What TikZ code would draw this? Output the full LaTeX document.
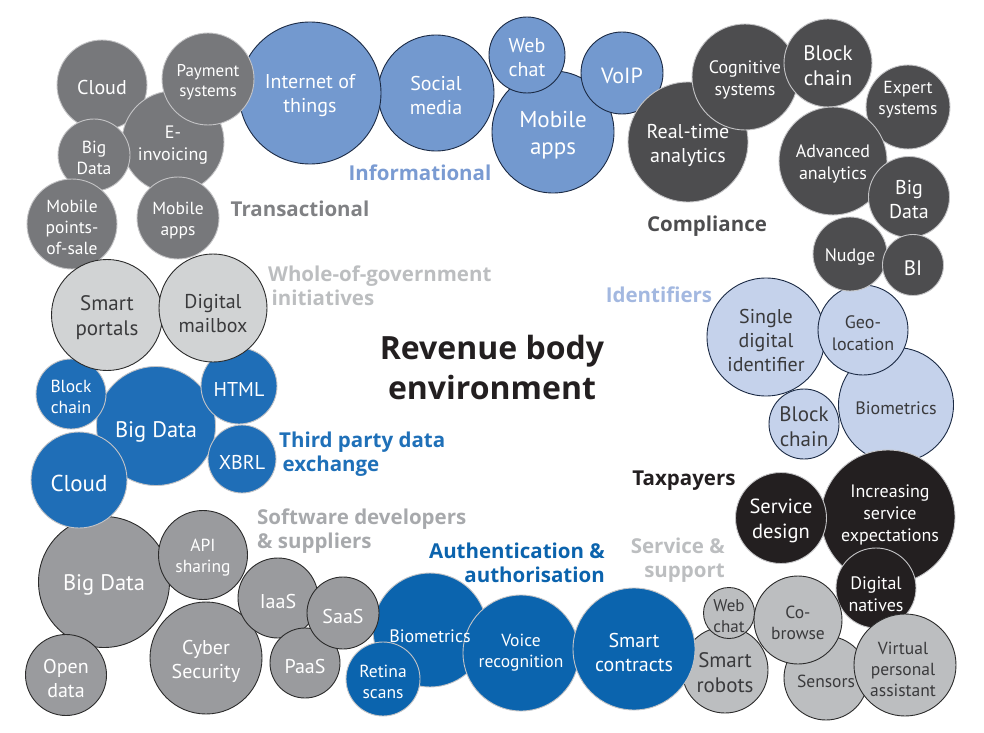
\documentclass[tikz,border=0pt]{standalone}
\usepackage{fontspec}
\setmainfont{PT Sans}
\newfontfamily\lblfont{Open Sans}
\definecolor{cTrans}{HTML}{77787B}
\definecolor{cInfo}{HTML}{7399CF}
\definecolor{cComp}{HTML}{4D4D4F}
\definecolor{cGov}{HTML}{D1D3D4}
\definecolor{cThird}{HTML}{1F6EB7}
\definecolor{cIdent}{HTML}{C5D2EB}
\definecolor{cTax}{HTML}{231F20}
\definecolor{cSoft}{HTML}{9A9B9E}
\definecolor{cAuth}{HTML}{0B64AE}
\definecolor{cServ}{HTML}{BCBEC0}
\definecolor{cNavy}{HTML}{1B2A44}
\definecolor{cDarkEdge}{HTML}{2B2B2B}
\definecolor{cLightEdge}{HTML}{C4C4C6}
\definecolor{cDarkText}{HTML}{3A3A3C}
\definecolor{lInfo}{HTML}{7A9BD2}
\definecolor{lTrans}{HTML}{808184}
\definecolor{lGov}{HTML}{BCBEC0}
\definecolor{lIdent}{HTML}{A3B8E0}
\definecolor{lThird}{HTML}{1F70B8}
\definecolor{lSoft}{HTML}{A7A9AC}
\definecolor{lAuth}{HTML}{0B63AD}
\newcommand\fz[1]{\fontsize{#1bp}{\dimexpr #1bp*6/5\relax}\selectfont}
\newcommand\bubble[4]{\node[#1,minimum size=#4bp] (#2) at (#3) {};}
\newcommand\btxt[5][0,0]{\node[#2,shift={(#1)},font=\fz{#4}] (#3-t) at (#3) {#5};}
\begin{document}
\begin{tikzpicture}[x=1bp,y=-1bp,
  bub/.style={circle,inner sep=0pt,line width=0.9bp},
  trans/.style={bub,fill=cTrans,draw=cLightEdge},
  info/.style={bub,fill=cInfo,draw=cNavy},
  comp/.style={bub,fill=cComp,draw=cLightEdge},
  gov/.style={bub,fill=cGov,draw=cDarkEdge},
  third/.style={bub,fill=cThird,draw=cLightEdge},
  ident/.style={bub,fill=cIdent,draw=cNavy},
  tax/.style={bub,fill=cTax,draw=cLightEdge},
  soft/.style={bub,fill=cSoft,draw=cDarkEdge},
  auth/.style={bub,fill=cAuth,draw=cLightEdge},
  serv/.style={bub,fill=cServ,draw=cDarkEdge},
  wt/.style={text=white,align=center,inner sep=0pt,yshift=-3bp},
  dt/.style={text=cDarkText,align=center,inner sep=0pt,yshift=-3bp},
  lbl/.style={font=\lblfont\bfseries\fontsize{20.5bp}{24.5bp}\selectfont,inner sep=0pt},
]
\useasboundingbox (0,0) rectangle (984,733);
% ---------- Informational
\bubble{info}{isoc}{436,93}{116}
\bubble{info}{iiot}{310,93}{142}
\bubble{info}{imob}{553,132}{122}
\bubble{info}{iweb}{527,55}{76}
\bubble{info}{ivoip}{622,73}{82}
% ---------- Transactional
\bubble{trans}{tcloud}{102,85}{90}
\bubble{trans}{teinv}{173,142}{102}
\bubble{trans}{tpay}{208,79}{92}
\bubble{trans}{tbig}{94,155}{72}
\bubble{trans}{tmob}{178,218}{82}
\bubble{trans}{tpos}{72,224}{90}
% ---------- Identifiers
\bubble{ident}{dsingle}{766,337}{118}
\bubble{ident}{dbio}{896,405}{115}
\bubble{ident}{dgeo}{863,330}{90}
\bubble{ident}{dblock}{804,424}{70}
% ---------- Compliance
\bubble{comp}{creal}{688,142}{120}
\bubble{comp}{ccog}{745,77}{106}
\bubble{comp}{cblock}{828,63}{88}
\bubble{comp}{cexp}{908,107}{84}
\bubble{comp}{cadv}{833,161}{108}
\bubble{comp}{cbig}{909,197}{81}
\bubble{comp}{cnudge}{850,254}{74}
\bubble{comp}{cbi}{913,265}{61}
% ---------- Taxpayers
\bubble{tax}{xinc}{888,517}{134}
\bubble{tax}{xserv}{781,518}{91}
\bubble{tax}{xnat}{876,588}{80}
% ---------- Service & support
\bubble{serv}{srob}{725,670}{86}
\bubble{serv}{sweb}{729,613}{51}
\bubble{serv}{ssens}{826,678}{84}
\bubble{serv}{sco}{798,620}{88}
\bubble{serv}{svirt}{905,665}{102}
% ---------- Authentication
\bubble{auth}{abio}{430,630}{114}
\bubble{auth}{aret}{383,679}{74}
\bubble{auth}{avoice}{521,653}{116}
\bubble{auth}{asmart}{634,649}{122}
% ---------- Software developers
\bubble{soft}{fbig}{104,582}{131}
\bubble{soft}{fapi}{203,555}{89}
\bubble{soft}{fopen}{66,675}{81}
\bubble{soft}{fcyber}{206,658}{112}
\bubble{soft}{fiaas}{278,598}{80}
\bubble{soft}{fpaas}{305,663}{70}
\bubble{soft}{fsaas}{343,613}{72}
% ---------- Third party data exchange
\bubble{third}{hbig}{156,426}{119}
\bubble{third}{hblock}{71,394}{70}
\bubble{third}{hhtml}{239,386}{76}
\bubble{third}{hxbrl}{242,459}{68}
\bubble{third}{hcloud}{79,480}{96}
% ---------- Whole-of-government
\bubble{gov}{gsmart}{107,315}{111}
\bubble{gov}{gmail}{213,308}{108}

% ================= texts
\btxt{wt}{iiot}{20}{Internet of\\things}
\btxt{wt}{isoc}{20}{Social\\media}
\btxt{wt}{iweb}{20}{Web\\chat}
\btxt{wt}{imob}{23}{Mobile\\apps}
\btxt{wt}{ivoip}{22}{VoIP}
\btxt{wt}{tcloud}{20}{Cloud}
\btxt{wt}{tpay}{17}{Payment\\systems}
\btxt{wt}{teinv}{18}{E-\\invoicing}
\btxt{wt}{tbig}{17.5}{Big\\Data}
\btxt{wt}{tmob}{17.5}{Mobile\\apps}
\btxt{wt}{tpos}{17.5}{Mobile\\points-\\of-sale}
\btxt{wt}{creal}{20}{Real-time\\analytics}
\btxt{wt}{ccog}{18}{Cognitive\\systems}
\btxt{wt}{cblock}{21}{Block\\chain}
\btxt[0,-10]{wt}{cexp}{17.5}{Expert\\systems}
\btxt{wt}{cadv}{18}{Advanced\\analytics}
\btxt{wt}{cbig}{20}{Big\\Data}
\btxt{wt}{cnudge}{18}{Nudge}
\btxt{wt}{cbi}{21}{BI}
\btxt{dt}{gsmart}{21}{Smart\\portals}
\btxt[0,3]{dt}{gmail}{20}{Digital\\mailbox}
\btxt{wt}{hblock}{17.5}{Block\\chain}
\btxt[0,3]{wt}{hbig}{22.5}{Big Data}
\btxt{wt}{hhtml}{20}{HTML}
\btxt{wt}{hxbrl}{20}{XBRL}
\btxt{wt}{hcloud}{23}{Cloud}
\btxt{dt}{dsingle}{20}{Single\\digital\\identifier}
\btxt{dt}{dgeo}{18}{Geo-\\location}
\btxt{dt}{dbio}{18}{Biometrics}
\btxt{dt}{dblock}{21}{Block\\chain}
\btxt{wt}{xserv}{20.5}{Service\\design}
\btxt[2,-5]{wt}{xinc}{18}{Increasing\\service\\expectations}
\btxt[0,3]{wt}{xnat}{18}{Digital\\natives}
\btxt{wt}{fbig}{22.5}{Big Data}
\btxt{wt}{fapi}{17.5}{API\\sharing}
\btxt{wt}{fiaas}{20}{IaaS}
\btxt{wt}{fsaas}{20}{SaaS}
\btxt{wt}{fcyber}{20}{Cyber\\Security}
\btxt{wt}{fpaas}{20}{PaaS}
\btxt{wt}{fopen}{20}{Open\\data}
\btxt[0,3]{wt}{abio}{18}{Biometrics}
\btxt{wt}{aret}{17.5}{Retina\\scans}
\btxt[0,-3]{wt}{avoice}{17.5}{Voice\\recognition}
\btxt{wt}{asmart}{20}{Smart\\contracts}
\btxt{dt}{sweb}{17}{Web\\chat}
\btxt{dt}{srob}{21}{Smart\\robots}
\btxt{dt}{sco}{17.5}{Co-\\browse}
\btxt{dt}{ssens}{17.5}{Sensors}
\btxt[-2,1]{dt}{svirt}{17.5}{Virtual\\personal\\assistant}

% ================= group labels
\node[lbl,text=lInfo] (Linfo) at (420,173) {Informational};
\node[lbl,text=lTrans] (Ltrans) at (300,209) {Transactional};
\node[lbl,text=cComp] (Lcomp) at (707,226) {Compliance};
\node[lbl,text=lIdent] (Lident) at (659,295) {Identifiers};
\node[lbl,text=cTax] (Ltax) at (684,481) {Taxpayers};
\node[lbl,text=lGov,align=left,anchor=west] (Lgov) at (268,286) {Whole-of-government\\\,initiatives};
\node[lbl,text=lThird,align=left,anchor=west] (Lthird) at (279,454) {Third party data\\\,exchange};
\node[lbl,text=lSoft,align=left,anchor=west] (Lsoft) at (257,531) {Software developers\\\& suppliers};
\node[lbl,text=lAuth,align=right,anchor=east] (Lauth) at (605,563) {Authentication \&\\authorisation};
\node[lbl,text=lGov,align=right,anchor=east] (Lserv) at (725,560) {Service \&\\support};
\node[font=\lblfont\bfseries\fontsize{32bp}{40bp}\selectfont,text=cTax,align=center,inner sep=0pt] (Ltitle) at (492,367) {Revenue body\\environment};
\end{tikzpicture}
\end{document}
